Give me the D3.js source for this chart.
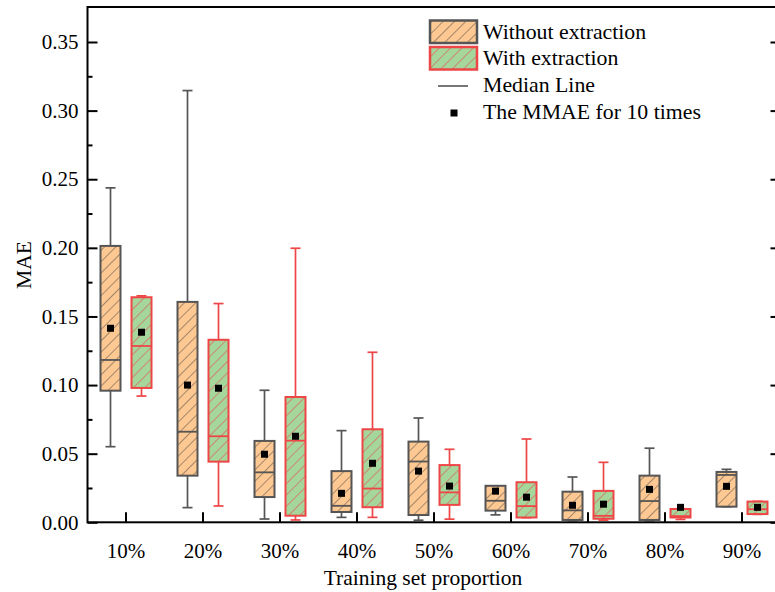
<!DOCTYPE html>
<html>
<head>
<meta charset="utf-8">
<script src="https://cdn.jsdelivr.net/npm/d3@7"></script>
<style>
  html, body { margin: 0; padding: 0; background: #ffffff; }
  svg { display: block; }
  text { font-family: "Liberation Serif", "Times New Roman", serif; fill: #000; }
</style>
</head>
<body>
<svg id="chart" width="775" height="592"></svg>
<script>
// Training set proportions on the x axis
const categories = ["10%", "20%", "30%", "40%", "50%", "60%", "70%", "80%", "90%"];

// Box statistics (MAE) without feature extraction
const withoutWhiskerHigh = [0.2437, 0.3146, 0.0962, 0.0668, 0.0760, 0.0265, 0.0330, 0.0540, 0.0386];
const withoutQ3          = [0.2014, 0.1606, 0.0593, 0.0373, 0.0588, 0.0266, 0.0223, 0.0340, 0.0367];
const withoutMedian      = [0.1183, 0.0660, 0.0364, 0.0120, 0.0443, 0.0157, 0.0087, 0.0155, 0.0345];
const withoutQ1          = [0.0959, 0.0340, 0.0184, 0.0075, 0.0053, 0.0085, 0.0017, 0.0017, 0.0114];
const withoutWhiskerLow  = [0.0551, 0.0107, 0.0024, 0.0036, 0.0015, 0.0054, 0.0012, 0.0012, 0.0114];
const withoutMean        = [0.1414, 0.1000, 0.0496, 0.0211, 0.0373, 0.0227, 0.0124, 0.0240, 0.0262];

// Box statistics (MAE) with feature extraction
const withWhiskerHigh = [0.1650, 0.1594, 0.1997, 0.1239, 0.0532, 0.0607, 0.0437, 0.0099, 0.0153];
const withQ3          = [0.1640, 0.1330, 0.0913, 0.0678, 0.0417, 0.0292, 0.0229, 0.0097, 0.0151];
const withMedian      = [0.1285, 0.0627, 0.0595, 0.0246, 0.0218, 0.0118, 0.0047, 0.0045, 0.0095];
const withQ1          = [0.0979, 0.0442, 0.0048, 0.0110, 0.0127, 0.0035, 0.0026, 0.0035, 0.0060];
const withWhiskerLow  = [0.0920, 0.0119, 0.0017, 0.0036, 0.0023, 0.0034, 0.0016, 0.0021, 0.0058];
const withMean        = [0.1385, 0.0977, 0.0627, 0.0430, 0.0264, 0.0183, 0.0132, 0.0109, 0.0109];

// Axis ticks
const yMajorTicks = [0, 0.05, 0.10, 0.15, 0.20, 0.25, 0.30, 0.35];
const yMinorTicks = [0.025, 0.075, 0.125, 0.175, 0.225, 0.275, 0.325];

// Legend entries
const legendLabels = ["Without extraction", "With extraction", "Median Line", "The MMAE for 10 times"];

const groups = [
  { key: "without", fill: "#FDC892", stroke: "#555555", hatch: "#5a5048",
    hi: withoutWhiskerHigh, q3: withoutQ3, med: withoutMedian, q1: withoutQ1, lo: withoutWhiskerLow, mean: withoutMean },
  { key: "with", fill: "#A5D79C", stroke: "#EE4646", hatch: "#E8484A",
    hi: withWhiskerHigh, q3: withQ3, med: withMedian, q1: withQ1, lo: withWhiskerLow, mean: withMean }
];

const svg = d3.select("#chart");
const plotLeft = 87.5, plotRight = 780.5, plotTop = 7, plotBottom = 522.3;

const x = d3.scaleBand().domain(categories).range([plotLeft, plotRight]).padding(0);
const sub = d3.scalePoint().domain(groups.map(g => g.key)).range([-15.5, 15.5]);
const y = d3.scaleLinear().domain([0, 0.3755]).range([plotBottom, plotTop]);

const boxW = 20, capW = 10;

// Hatch patterns
const defs = svg.append("defs");
groups.forEach(g => {
  const p = defs.append("pattern")
    .attr("id", "hatch-" + g.key)
    .attr("patternUnits", "userSpaceOnUse")
    .attr("width", 8).attr("height", 8)
    .attr("patternTransform", "rotate(45)");
  p.append("rect").attr("width", 8).attr("height", 8).attr("fill", g.fill);
  p.append("line").attr("x1", 0).attr("y1", 0).attr("x2", 0).attr("y2", 8)
    .attr("stroke", g.hatch).attr("stroke-width", 1.1);
});

// Boxes
const plot = svg.append("g");
groups.forEach(g => {
  const gg = plot.append("g").attr("class", "series-" + g.key);
  categories.forEach((c, i) => {
    const cx = x(c) + x.bandwidth() / 2 + sub(g.key);
    const b = gg.append("g");
    // whisker stem
    b.append("line")
      .attr("x1", cx).attr("x2", cx)
      .attr("y1", y(g.hi[i])).attr("y2", y(g.lo[i]))
      .attr("stroke", g.stroke).attr("stroke-width", 1.7);
    // caps
    [g.hi[i], g.lo[i]].forEach(v => {
      b.append("line")
        .attr("x1", cx - capW / 2).attr("x2", cx + capW / 2)
        .attr("y1", y(v)).attr("y2", y(v))
        .attr("stroke", g.stroke).attr("stroke-width", 1.7);
    });
    // box
    b.append("rect")
      .attr("x", cx - boxW / 2).attr("width", boxW)
      .attr("y", y(g.q3[i])).attr("height", Math.max(0.5, y(g.q1[i]) - y(g.q3[i])))
      .attr("fill", "url(#hatch-" + g.key + ")")
      .attr("stroke", g.stroke).attr("stroke-width", 2);
    // median
    b.append("line")
      .attr("x1", cx - boxW / 2).attr("x2", cx + boxW / 2)
      .attr("y1", y(g.med[i])).attr("y2", y(g.med[i]))
      .attr("stroke", g.stroke).attr("stroke-width", 1.8);
  });
});

// Mean markers
groups.forEach(g => {
  plot.append("g").selectAll("rect")
    .data(categories)
    .join("rect")
    .attr("x", (c) => x(c) + x.bandwidth() / 2 + sub(g.key) - 3.5)
    .attr("y", (c, i) => y(g.mean[i]) - 3.5)
    .attr("width", 7).attr("height", 7)
    .attr("fill", "#000");
});

// Frame
svg.append("rect")
  .attr("x", plotLeft).attr("y", plotTop)
  .attr("width", plotRight - plotLeft).attr("height", plotBottom - plotTop)
  .attr("fill", "none").attr("stroke", "#000").attr("stroke-width", 2);

// Left axis with inward ticks
const yAxis = svg.append("g")
  .attr("transform", `translate(${plotLeft},0)`)
  .call(d3.axisLeft(y).tickValues(yMajorTicks).tickFormat(d3.format(".2f"))
    .tickSizeInner(-10).tickSizeOuter(0).tickPadding(9));
yAxis.select(".domain").remove();
yAxis.selectAll(".tick line").attr("stroke", "#000").attr("stroke-width", 2);
yAxis.selectAll(".tick text").style("font-size", "21px").style("font-family", "Liberation Serif, Times New Roman, serif");

const yMinor = svg.append("g")
  .attr("transform", `translate(${plotLeft},0)`)
  .call(d3.axisLeft(y).tickValues(yMinorTicks).tickFormat("").tickSizeInner(-5).tickSizeOuter(0));
yMinor.select(".domain").remove();
yMinor.selectAll(".tick line").attr("stroke", "#000").attr("stroke-width", 2);

// Right axis, majors only
const yRight = svg.append("g")
  .attr("transform", `translate(${plotRight},0)`)
  .call(d3.axisRight(y).tickValues(yMajorTicks).tickFormat("").tickSizeInner(-10).tickSizeOuter(0));
yRight.select(".domain").remove();
yRight.selectAll(".tick line").attr("stroke", "#000").attr("stroke-width", 2);

// Bottom axis
const xAxis = svg.append("g")
  .attr("transform", `translate(0,${plotBottom})`)
  .call(d3.axisBottom(x).tickSizeInner(-10).tickSizeOuter(0).tickPadding(21));
xAxis.select(".domain").remove();
xAxis.selectAll(".tick line").attr("stroke", "#000").attr("stroke-width", 2);
xAxis.selectAll(".tick text").style("font-size", "21px").style("font-family", "Liberation Serif, Times New Roman, serif");

// Axis titles
svg.append("text")
  .attr("x", 423).attr("y", 585)
  .attr("text-anchor", "middle")
  .style("font-size", "21.5px")
  .text("Training set proportion");

svg.append("text")
  .attr("transform", `translate(31,265) rotate(-90)`)
  .attr("text-anchor", "middle")
  .style("font-size", "21.5px")
  .text("MAE");

// Legend
const lg = svg.append("g");
groups.forEach((g, i) => {
  lg.append("rect")
    .attr("x", 430).attr("y", 20.5 + i * 26.5)
    .attr("width", 47).attr("height", 22.5)
    .attr("fill", "url(#hatch-" + g.key + ")")
    .attr("stroke", g.stroke).attr("stroke-width", 2.5);
});
lg.append("line")
  .attr("x1", 438).attr("x2", 468).attr("y1", 86).attr("y2", 86)
  .attr("stroke", "#555555").attr("stroke-width", 1.6);
lg.append("rect")
  .attr("x", 450.5).attr("y", 109.5).attr("width", 7).attr("height", 7)
  .attr("fill", "#000");
const legendBaselines = [38.5, 65, 92, 119];
lg.selectAll("text.leg")
  .data(legendLabels)
  .join("text")
  .attr("class", "leg")
  .attr("x", 483)
  .attr("y", (d, i) => legendBaselines[i])
  .style("font-size", "21.8px")
  .text(d => d);
</script>
</body>
</html>
